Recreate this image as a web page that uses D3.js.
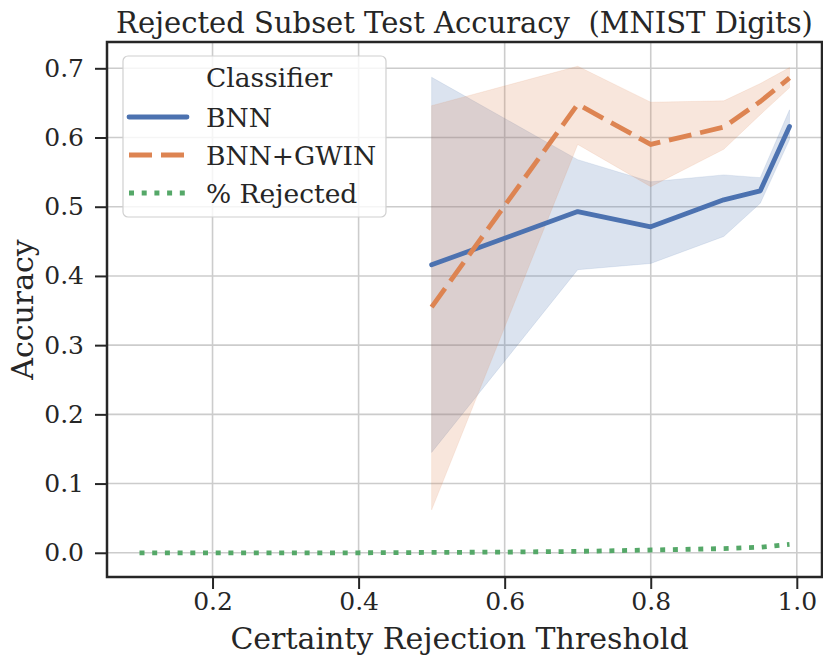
<!DOCTYPE html>
<html>
<head>
<meta charset="utf-8">
<script src="https://cdn.jsdelivr.net/npm/d3@7"></script>
<style>
  html, body { margin: 0; padding: 0; background: #ffffff; }
  svg { display: block; }
  text { font-family: "DejaVu Serif", serif; fill: #262626; white-space: pre; }
</style>
</head>
<body>
<svg id="chart" width="823" height="656"></svg>
<script>
// ---------- data ----------
const thresholds = [0.5, 0.7, 0.8, 0.9, 0.95, 0.99];
const bnnMean  = [0.416, 0.493, 0.471, 0.510, 0.523, 0.616];
const bnnLow   = [0.145, 0.409, 0.418, 0.457, 0.505, 0.597];
const bnnHigh  = [0.687, 0.568, 0.536, 0.546, 0.542, 0.640];
const gwinMean = [0.355, 0.648, 0.590, 0.615, 0.652, 0.686];
const gwinLow  = [0.062, 0.590, 0.529, 0.583, 0.633, 0.672];
const gwinHigh = [0.646, 0.703, 0.651, 0.653, 0.678, 0.701];
const rejX     = [0.1, 0.2, 0.3, 0.4, 0.5, 0.6, 0.7, 0.8, 0.9, 0.95, 0.99];
const rejY     = [0, 0, 0, 0, 0.0005, 0.001, 0.002, 0.004, 0.006, 0.008, 0.012];
const xTicks   = [0.2, 0.4, 0.6, 0.8, 1.0];
const yTicks   = [0.0, 0.1, 0.2, 0.3, 0.4, 0.5, 0.6, 0.7];
const legendTitle = "Classifier";
const seriesNames = ["BNN", "BNN+GWIN", "% Rejected"];
const colors = ["#4c72b0", "#dd8452", "#55a868"];

// ---------- layout ----------
const svg = d3.select("#chart");
const L = 107, R = 822, T = 42, B = 577;
const x = d3.scaleLinear().domain([0.0555, 1.0345]).range([L, R]);
const y = d3.scaleLinear().domain([-0.035, 0.738]).range([B, T]);

// grid
const grid = svg.append("g");
grid.selectAll("line.gx").data(xTicks).join("line")
  .attr("x1", d => x(d)).attr("x2", d => x(d)).attr("y1", T).attr("y2", B)
  .attr("stroke", "#cccccc").attr("stroke-width", 1.6);
grid.selectAll("line.gy").data(yTicks).join("line")
  .attr("y1", d => y(d)).attr("y2", d => y(d)).attr("x1", L).attr("x2", R)
  .attr("stroke", "#cccccc").attr("stroke-width", 1.6);

// bands
function band(lo, hi, color) {
  const data = thresholds.map((t, i) => ({x: t, lo: lo[i], hi: hi[i]}));
  svg.append("path").datum(data)
    .attr("d", d3.area().x(d => x(d.x)).y0(d => y(d.lo)).y1(d => y(d.hi)))
    .attr("fill", color).attr("fill-opacity", 0.2)
    .attr("stroke", color).attr("stroke-opacity", 0.12).attr("stroke-width", 1);
}
band(bnnLow, bnnHigh, colors[0]);
band(gwinLow, gwinHigh, colors[1]);

const line = d3.line().x(d => x(d[0])).y(d => y(d[1]));
svg.append("path").datum(thresholds.map((t, i) => [t, bnnMean[i]]))
  .attr("d", line).attr("fill", "none").attr("stroke", colors[0])
  .attr("stroke-width", 4.8).attr("stroke-linejoin", "round").attr("stroke-linecap", "round");
svg.append("path").datum(thresholds.map((t, i) => [t, gwinMean[i]]))
  .attr("d", line).attr("fill", "none").attr("stroke", colors[1])
  .attr("stroke-width", 4.8).attr("stroke-dasharray", "23,9");
svg.append("path").datum(rejX.map((t, i) => [t, rejY[i]]))
  .attr("d", line).attr("fill", "none").attr("stroke", colors[2])
  .attr("stroke-width", 4.8).attr("stroke-dasharray", "5,7.7");

// axes
const xAxis = svg.append("g").attr("transform", `translate(0,${B})`)
  .call(d3.axisBottom(x).tickValues(xTicks).tickFormat(d3.format(".1f")).tickSize(12).tickPadding(3));
const yAxis = svg.append("g").attr("transform", `translate(${L},0)`)
  .call(d3.axisLeft(y).tickValues(yTicks).tickFormat(d3.format(".1f")).tickSize(12).tickPadding(11));
[xAxis, yAxis].forEach(g => {
  g.select(".domain").remove();
  g.selectAll(".tick line").attr("stroke", "#262626").attr("stroke-width", 2);
  g.selectAll(".tick text").attr("font-size", 25).attr("font-family", "DejaVu Serif").attr("fill", "#262626");
});

// frame
svg.append("rect").attr("x", L).attr("y", T).attr("width", R - L).attr("height", B - T)
  .attr("fill", "none").attr("stroke", "#262626").attr("stroke-width", 2.5);

// titles
svg.append("text").attr("x", (L + R) / 2).attr("y", 33).attr("text-anchor", "middle")
  .attr("font-size", 29).attr("xml:space", "preserve")
  .text("Rejected Subset Test Accuracy  (MNIST Digits)");
svg.append("text").attr("x", (L + R) / 2 - 5).attr("y", 649).attr("text-anchor", "middle")
  .attr("font-size", 30).text("Certainty Rejection Threshold");
svg.append("text").attr("transform", `translate(33,${(T + B) / 2}) rotate(-90)`)
  .attr("text-anchor", "middle").attr("font-size", 30).text("Accuracy");

// legend
const lg = svg.append("g");
lg.append("rect").attr("x", 123).attr("y", 56).attr("width", 263).attr("height", 161)
  .attr("rx", 5).attr("fill", "#ffffff").attr("fill-opacity", 0.8)
  .attr("stroke", "#d0d0d0").attr("stroke-width", 1.2);
lg.append("text").attr("x", 206).attr("y", 87).attr("font-size", 26.5).text(legendTitle);
const dashes = [null, "23,9", "5,7.7"];
const rowsY = [117, 155, 193];
seriesNames.forEach((name, i) => {
  lg.append("line").attr("x1", 129).attr("x2", 187).attr("y1", rowsY[i]).attr("y2", rowsY[i])
    .attr("stroke", colors[i]).attr("stroke-width", 4.8)
    .attr("stroke-linecap", i === 0 ? "round" : "butt")
    .attr("stroke-dasharray", dashes[i]);
  lg.append("text").attr("x", 206).attr("y", rowsY[i] + 9.5).attr("font-size", 26.5).text(name);
});
</script>
</body>
</html>
